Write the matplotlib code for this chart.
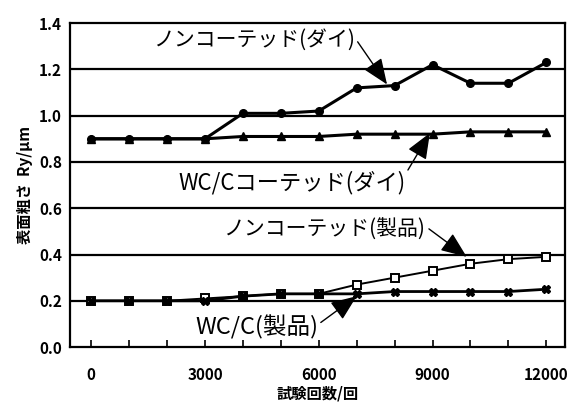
import matplotlib
matplotlib.use("Agg")
import matplotlib.pyplot as plt
from matplotlib.ticker import MultipleLocator

plt.rcParams['font.family'] = ['Noto Sans CJK JP', 'DejaVu Sans']

# test cycles
cycles = [0, 1000, 2000, 3000, 4000, 5000, 6000, 7000, 8000, 9000, 10000, 11000, 12000]

# surface roughness Ry (um)
die_uncoated = [0.90, 0.90, 0.90, 0.90, 1.01, 1.01, 1.02, 1.12, 1.13, 1.22, 1.14, 1.14, 1.23]
die_wcc = [0.90, 0.90, 0.90, 0.90, 0.91, 0.91, 0.91, 0.92, 0.92, 0.92, 0.93, 0.93, 0.93]
prod_uncoated = [0.20, 0.20, 0.20, 0.21, 0.22, 0.23, 0.23, 0.27, 0.30, 0.33, 0.36, 0.38, 0.39]
prod_wcc = [0.20, 0.20, 0.20, 0.20, 0.22, 0.23, 0.23, 0.23, 0.24, 0.24, 0.24, 0.24, 0.25]

x_ticks = [0, 3000, 6000, 9000, 12000]
y_ticks = [0.0, 0.2, 0.4, 0.6, 0.8, 1.0, 1.2, 1.4]

fig = plt.figure(figsize=(5.81, 4.05), dpi=100)
ax = fig.add_axes([0.121, 0.143, 0.852, 0.800])

for y in y_ticks[1:-1]:
    ax.axhline(y, color='black', lw=1.6, zorder=1)

ax.plot(cycles, die_uncoated, color='black', lw=2.2, marker='o', ms=5.5, zorder=3)
ax.plot(cycles, die_wcc, color='black', lw=2.2, marker='^', ms=5.5, zorder=3)
ax.plot(cycles, prod_uncoated, color='black', lw=1.4, marker='s', ms=6,
        mfc='white', mew=1.4, zorder=3)
ax.plot(cycles, prod_wcc, color='black', lw=2.0, marker='X', ms=6, zorder=4)

ax.set_xlim(-550, 12500)
ax.set_ylim(0.0, 1.4)
ax.set_xticks(x_ticks)
ax.xaxis.set_minor_locator(MultipleLocator(1000))
ax.set_yticks(y_ticks)
ax.set_yticklabels([f"{v:.1f}" for v in y_ticks])
ax.tick_params(axis='x', which='major', direction='in', length=5, width=1.2, pad=14, labelsize=11)
ax.tick_params(axis='x', which='minor', direction='in', length=5, width=1.2)
ax.tick_params(axis='y', direction='in', length=0, pad=6, labelsize=11)
for lab in ax.get_xticklabels() + ax.get_yticklabels():
    lab.set_fontweight('bold')
for s in ax.spines.values():
    s.set_linewidth(1.6)

ax.set_xlabel('試験回数/回', fontsize=11, fontweight='bold', labelpad=2)
ax.set_ylabel('表面粗さ  Ry/μm', fontsize=11, fontweight='bold', labelpad=4)

arrow = dict(arrowstyle='-|>,head_length=1.6,head_width=0.65', color='black',
             lw=1.0, shrinkA=0, shrinkB=0, mutation_scale=10)

ax.annotate('ノンコーテッド(ダイ)', xy=(7800, 1.135),
            xytext=(1630, 1.327), fontsize=15, ha='left', va='center',
            arrowprops=dict(arrow, relpos=(1.0, 0.6)))
ax.annotate('WC/Cコーテッド(ダイ)', xy=(8930, 0.925),
            xytext=(2290, 0.709), fontsize=16, ha='left', va='center',
            arrowprops=dict(arrow, relpos=(1.0, 0.85)))
ax.annotate('ノンコーテッド(製品)', xy=(9900, 0.39),
            xytext=(3476, 0.506), fontsize=15, ha='left', va='center',
            arrowprops=dict(arrow, relpos=(1.02, 0.55)))
ax.annotate('WC/C(製品)', xy=(7000, 0.22),
            xytext=(2738, 0.087), fontsize=17, ha='left', va='center',
            arrowprops=dict(arrow, relpos=(1.0, 0.6)))

fig.savefig('out.png', dpi=100)
